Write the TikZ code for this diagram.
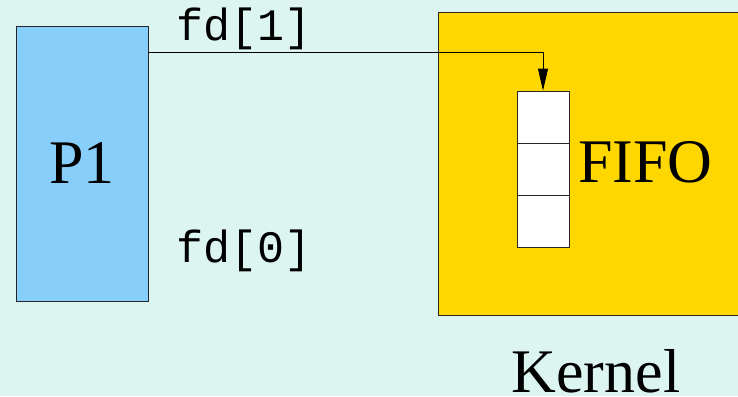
\documentclass[tikz,border=0pt]{standalone}
\usepackage{fontspec}
\setmainfont{Liberation Serif}
\setmonofont{Liberation Mono}
\usetikzlibrary{arrows.meta,positioning}
\definecolor{bgmint}{RGB}{220,245,240}
\definecolor{procblue}{RGB}{135,206,250}
\definecolor{kernelgold}{RGB}{255,215,0}

\begin{document}
\begin{tikzpicture}[
  x=1pt, y=1pt,
  pbox/.style={draw=black!85, fill=procblue, rectangle, line width=0.9pt, minimum width=132pt, minimum height=275pt, inner sep=0pt, text depth=0pt},
  kbox/.style={draw=black!85, fill=kernelgold, rectangle, line width=0.9pt, minimum width=307pt, minimum height=303pt},
  cell/.style={draw=black!85, fill=white, rectangle, line width=0.9pt, minimum width=52pt, minimum height=52.3pt, inner sep=0pt},
  big/.style={font=\fontsize{62}{62}\selectfont, inner sep=0pt},
  fdlabel/.style={font=\ttfamily\fontsize{45}{45}\selectfont, inner sep=0pt, anchor=base},
  >={Triangle[length=22pt, width=10pt]}
]
  \fill[bgmint] (0,0) rectangle (738,396);
  \useasboundingbox (0,0) rectangle (738,396);
  \clip (0,0) rectangle (738,396);

  \node[pbox, big] (P1) at (82,232.5) {P1};
  \node[kbox] (kern) at (591.5,232.5) {};
  \node[big, anchor=base, text depth=0pt] (kernlabel) at (596,4) {Kernel};

  \node[cell] (cell1) at (543,278.8) {};
  \node[cell] (cell2) at (543,226.5) {};
  \node[cell] (cell3) at (543,174.2) {};
  \node[big, anchor=base west] (fifo) at (578,213) {FIFO};

  \node[fdlabel] (fd1) at (244,355) {fd[1]};
  \node[fdlabel] (fd0) at (244,133) {fd[0]};

  \coordinate (wr) at (148,344);
  \draw[->, line width=0.9pt] (wr) -| (cell1.north);
\end{tikzpicture}
\end{document}
